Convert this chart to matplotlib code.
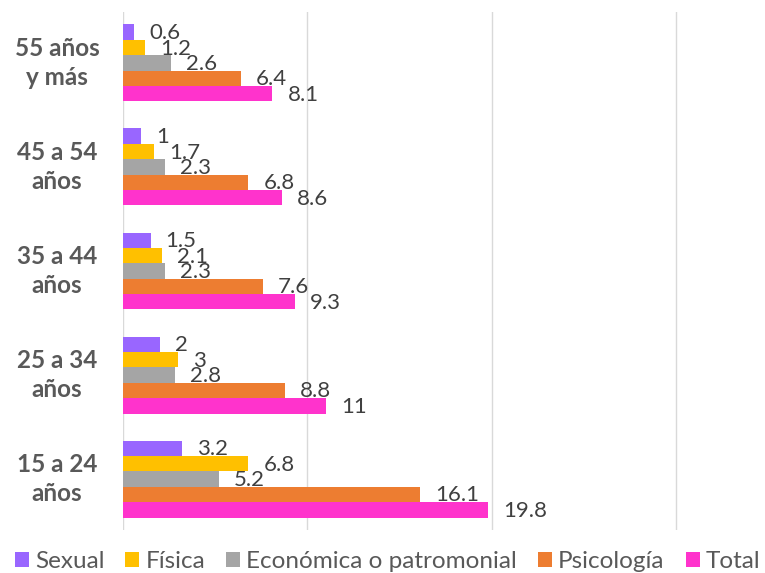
import numpy as np
import matplotlib.pyplot as plt

plt.rcParams['font.family'] = ['Lato', 'DejaVu Sans']

# age groups, bottom to top
groups = ["15 a 24\naños", "25 a 34\naños", "35 a 44\naños", "45 a 54\naños", "55 años\ny más"]
series = ["Sexual", "Física", "Económica o patromonial", "Psicología", "Total"]
sexual = [3.2, 2, 1.5, 1, 0.6]
fisica = [6.8, 3, 2.1, 1.7, 1.2]
economica = [5.2, 2.8, 2.3, 2.3, 2.6]
psicologia = [16.1, 8.8, 7.6, 6.8, 6.4]
total = [19.8, 11, 9.3, 8.6, 8.1]
colors = ["#9966FF", "#FFC000", "#A5A5A5", "#ED7D31", "#FF33CC"]

values = [sexual, fisica, economica, psicologia, total]

fig = plt.figure(figsize=(7.65, 5.73), dpi=100)
ax = fig.add_axes([123 / 765, 43 / 573, 642 / 765, 518 / 573])

y = np.arange(len(groups))
h = 0.148
for i, (name, vals) in enumerate(zip(series, values)):
    # first series on top inside each group
    pos = y + (2 - i) * h
    ax.barh(pos, vals, height=h, color=colors[i], label=name, zorder=2)
    for p, v in zip(pos, vals):
        ax.annotate(f"{v:g}", (v, p), xytext=(15, -1), textcoords="offset pixels",
                    va="center", ha="left", fontsize=16, color="#404040")

ax.set_xlim(0, 34.8)
ax.set_ylim(-0.49, 4.49)
ax.set_xticks([0, 10, 20, 30])
ax.set_xticklabels([])
ax.tick_params(axis="x", length=0)
ax.grid(axis="x", color="#D9D9D9", linewidth=1, zorder=0)
ax.set_yticks(y)
ax.set_yticklabels([])
ax.tick_params(axis="y", length=0)
for s in ax.spines.values():
    s.set_visible(False)

for yy, g in zip(y, groups):
    ax.annotate(g, (0, yy), xycoords=("figure fraction", "data"), xytext=(57, 0),
                textcoords="offset pixels", ha="center", va="center",
                fontsize=17.5, fontweight="bold", color="#595959", linespacing=1.3)

fig.legend(loc="center", bbox_to_anchor=(0.5 + 5 / 765, 11 / 573), ncol=5, frameon=False,
           fontsize=17.5, handlelength=0.58, handleheight=0.58, handletextpad=0.25,
           columnspacing=0.86, labelcolor="#595959", borderaxespad=0, borderpad=0)

fig.savefig("out.png", dpi=100)
